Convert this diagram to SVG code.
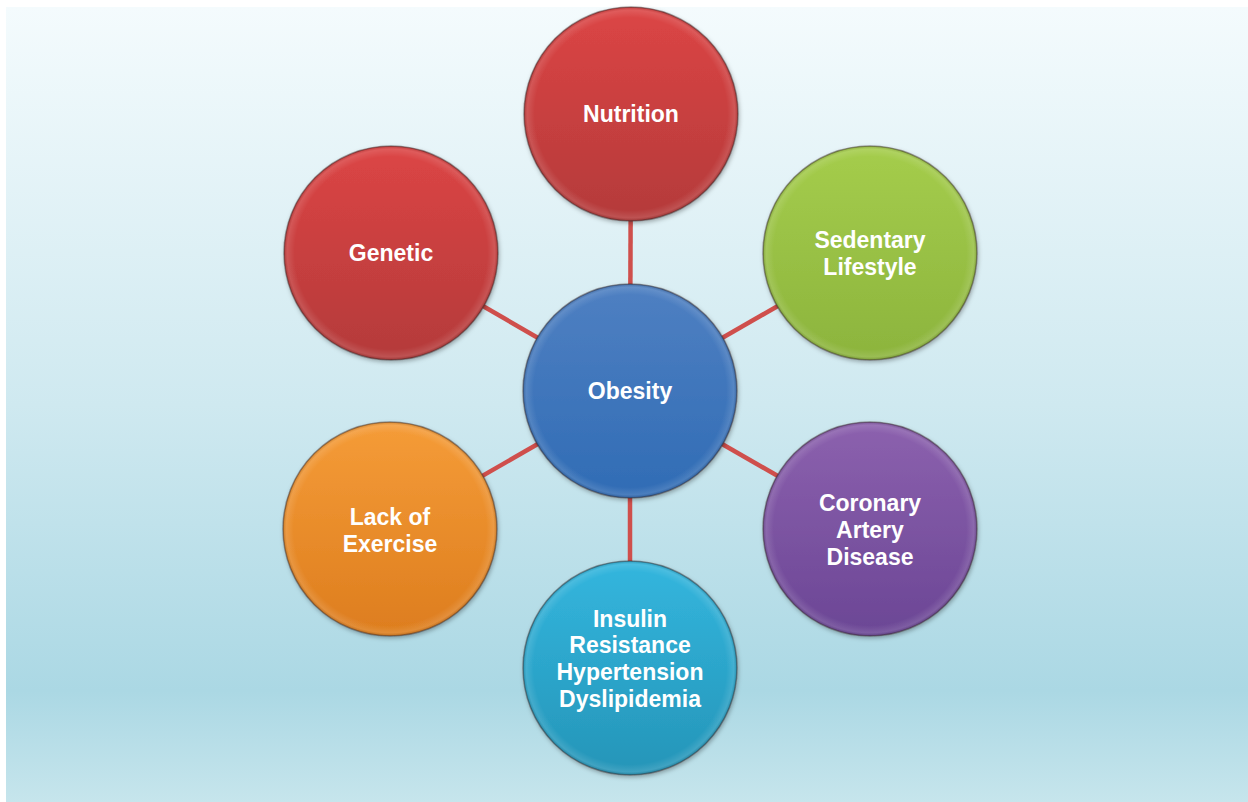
<svg xmlns="http://www.w3.org/2000/svg" width="1248" height="802" viewBox="0 0 1248 802">
<style>
.node circle.body{stroke:#3a2a2a;stroke-opacity:0.45;stroke-width:1.5;filter:url(#sh)}
.node circle.hl{fill:url(#hl);stroke:none}
.lbl{font-family:"Liberation Sans",Arial,sans-serif;font-weight:bold;font-size:23px;fill:#ffffff;text-anchor:middle}
.conn line{stroke:#cf4f4c;stroke-width:4.5}
</style>
<defs>
<linearGradient id="bg" x1="0" y1="0" x2="0" y2="1">
<stop offset="0" stop-color="#f4fbfd"/>
<stop offset="0.5" stop-color="#cfe9f0"/>
<stop offset="0.86" stop-color="#abd8e4"/>
<stop offset="1" stop-color="#c6e5ec"/>
</linearGradient>
<linearGradient id="gRed" x1="0" y1="0" x2="0" y2="1"><stop offset="0" stop-color="#dc4545"/><stop offset="1" stop-color="#b43a3a"/></linearGradient>
<linearGradient id="gGreen" x1="0" y1="0" x2="0" y2="1"><stop offset="0" stop-color="#a5cd4c"/><stop offset="1" stop-color="#8cb43d"/></linearGradient>
<linearGradient id="gBlue" x1="0" y1="0" x2="0" y2="1"><stop offset="0" stop-color="#4f80c2"/><stop offset="1" stop-color="#306cb5"/></linearGradient>
<linearGradient id="gPurple" x1="0" y1="0" x2="0" y2="1"><stop offset="0" stop-color="#8c61ae"/><stop offset="1" stop-color="#6b4695"/></linearGradient>
<linearGradient id="gOrange" x1="0" y1="0" x2="0" y2="1"><stop offset="0" stop-color="#f59c38"/><stop offset="1" stop-color="#dd7d1e"/></linearGradient>
<linearGradient id="gCyan" x1="0" y1="0" x2="0" y2="1"><stop offset="0" stop-color="#33b6de"/><stop offset="1" stop-color="#2595b8"/></linearGradient>
<radialGradient id="hl" cx="0.5" cy="0.5" r="0.5">
<stop offset="0.9" stop-color="#ffffff" stop-opacity="0"/>
<stop offset="0.97" stop-color="#ffffff" stop-opacity="0.12"/>
<stop offset="1" stop-color="#000000" stop-opacity="0.15"/>
</radialGradient>
<filter id="sh" x="-20%" y="-20%" width="140%" height="140%">
<feDropShadow dx="1" dy="2" stdDeviation="2" flood-color="#000" flood-opacity="0.3"/>
</filter>
</defs>
<rect x="6" y="7" width="1242" height="795" fill="url(#bg)"/>
<g id="connectors" class="conn">
<line x1="630" y1="391" x2="631" y2="114"/>
<line x1="630" y1="391" x2="870" y2="253"/>
<line x1="630" y1="391" x2="870" y2="529"/>
<line x1="630" y1="391" x2="630" y2="668"/>
<line x1="630" y1="391" x2="390" y2="529"/>
<line x1="630" y1="391" x2="391" y2="253"/>
</g>
<g id="node-nutrition" class="node">
<circle class="body" cx="631" cy="114" r="107" fill="url(#gRed)"/>
<circle class="hl" cx="631" cy="114" r="107"/>
<text class="lbl" x="631" y="122">Nutrition</text>
</g>
<g id="node-sedentary" class="node">
<circle class="body" cx="870" cy="253" r="107" fill="url(#gGreen)"/>
<circle class="hl" cx="870" cy="253" r="107"/>
<text class="lbl" x="870" y="248">Sedentary</text>
<text class="lbl" x="870" y="275">Lifestyle</text>
</g>
<g id="node-coronary" class="node">
<circle class="body" cx="870" cy="529" r="107" fill="url(#gPurple)"/>
<circle class="hl" cx="870" cy="529" r="107"/>
<text class="lbl" x="870" y="511">Coronary</text>
<text class="lbl" x="870" y="538">Artery</text>
<text class="lbl" x="870" y="565">Disease</text>
</g>
<g id="node-insulin" class="node">
<circle class="body" cx="630" cy="668" r="107" fill="url(#gCyan)"/>
<circle class="hl" cx="630" cy="668" r="107"/>
<text class="lbl" x="630" y="627">Insulin</text>
<text class="lbl" x="630" y="653">Resistance</text>
<text class="lbl" x="630" y="680">Hypertension</text>
<text class="lbl" x="630" y="707">Dyslipidemia</text>
</g>
<g id="node-lack" class="node">
<circle class="body" cx="390" cy="529" r="107" fill="url(#gOrange)"/>
<circle class="hl" cx="390" cy="529" r="107"/>
<text class="lbl" x="390" y="525">Lack of</text>
<text class="lbl" x="390" y="552">Exercise</text>
</g>
<g id="node-genetic" class="node">
<circle class="body" cx="391" cy="253" r="107" fill="url(#gRed)"/>
<circle class="hl" cx="391" cy="253" r="107"/>
<text class="lbl" x="391" y="261">Genetic</text>
</g>
<g id="node-obesity" class="node">
<circle class="body" cx="630" cy="391" r="107" fill="url(#gBlue)"/>
<circle class="hl" cx="630" cy="391" r="107"/>
<text class="lbl" x="630" y="399">Obesity</text>
</g>
</svg>
